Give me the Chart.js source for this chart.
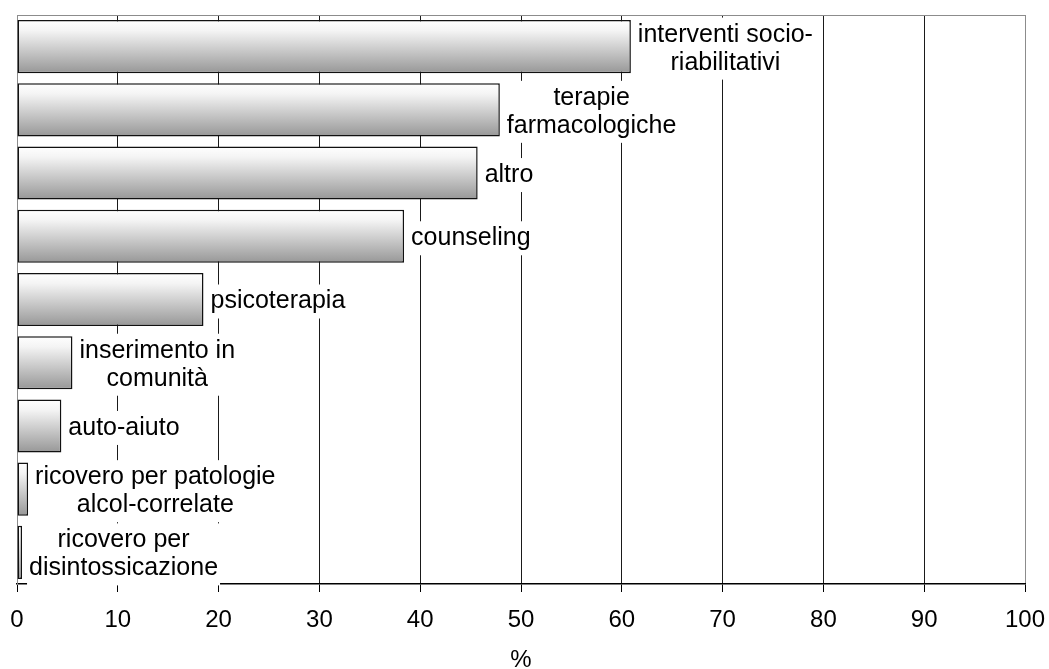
<!DOCTYPE html>
<html>
<head>
<meta charset="utf-8">
<script src="https://cdn.jsdelivr.net/npm/chart.js@4/dist/chart.umd.min.js"></script>
<style>
  html, body { margin: 0; padding: 0; background: #fff; }
  #wrap { width: 1049px; height: 669px; }
</style>
</head>
<body>
<div id="wrap"><canvas id="chart" width="1049" height="669"></canvas></div>
<script>
const categories = [
  ["interventi socio-", "riabilitativi"],
  ["terapie", "farmacologiche"],
  ["altro"],
  ["counseling"],
  ["psicoterapia"],
  ["inserimento in", "comunità"],
  ["auto-aiuto"],
  ["ricovero per patologie", "alcol-correlate"],
  ["ricovero per", "disintossicazione"],
];
const values = [60.9, 47.9, 45.7, 38.4, 18.5, 5.5, 4.4, 1.1, 0.5];
const xTicks = [0, 10, 20, 30, 40, 50, 60, 70, 80, 90, 100];
const axisTitle = "%";

const FONT = "'Liberation Sans', Arial, sans-serif";
const BAR_PCT = 0.84;

function barGradient(context) {
  const chart = context.chart;
  const area = chart.chartArea;
  if (!area || context.type !== "data") return "#cccccc";
  const yc = chart.scales.y.getPixelForValue(context.dataIndex);
  const half = ((area.bottom - area.top) / categories.length) * BAR_PCT / 2;
  const g = chart.ctx.createLinearGradient(0, yc - half, 0, yc + half);
  g.addColorStop(0, "#ffffff");
  g.addColorStop(0.2, "#f4f4f4");
  g.addColorStop(1, "#979797");
  return g;
}

// top frame line of the plot
const frameTop = {
  id: "frameTop",
  beforeDatasetsDraw(chart) {
    const { ctx, chartArea } = chart;
    ctx.save();
    ctx.strokeStyle = "#8c8c8c";
    ctx.lineWidth = 1;
    ctx.beginPath();
    ctx.moveTo(chartArea.left, chartArea.top + 0.5);
    ctx.lineTo(chartArea.right, chartArea.top + 0.5);
    ctx.stroke();
    ctx.restore();
  },
};

// category names written right of each bar, on a white box
const barLabels = {
  id: "barLabels",
  afterDatasetsDraw(chart) {
    const { ctx } = chart;
    const meta = chart.getDatasetMeta(0);
    const lineH = 28;
    ctx.save();
    ctx.font = "25px " + FONT;
    ctx.textBaseline = "middle";
    ctx.textAlign = "center";
    meta.data.forEach((bar, i) => {
      const lines = categories[i];
      const w = Math.max(...lines.map((l) => ctx.measureText(l).width));
      const left = bar.x + 7;
      const h = lines.length * lineH;
      const top = bar.y - h / 2 + 2;
      ctx.fillStyle = "#ffffff";
      ctx.fillRect(left - 2, top - 3, w + 4, h + 6);
      ctx.fillStyle = "#000000";
      lines.forEach((l, k) => {
        ctx.fillText(l, left + w / 2, top + lineH * k + lineH / 2);
      });
    });
    ctx.restore();
  },
};

new Chart(document.getElementById("chart"), {
  type: "bar",
  data: {
    labels: categories.map((c) => c.join(" ")),
    datasets: [
      {
        data: values,
        backgroundColor: barGradient,
        borderColor: "#111111",
        borderWidth: 1.5,
        borderSkipped: false,
        categoryPercentage: 1,
        barPercentage: BAR_PCT,
      },
    ],
  },
  options: {
    indexAxis: "y",
    responsive: false,
    animation: false,
    layout: { padding: { left: 17, right: 24, top: 15, bottom: 0 } },
    plugins: {
      legend: { display: false },
      tooltip: { enabled: false },
    },
    scales: {
      x: {
        min: 0,
        max: 100,
        afterBuildTicks: (scale) => {
          scale.ticks = xTicks.map((v) => ({ value: v }));
        },
        afterFit: (scale) => {
          scale.height = 85;
          scale.paddingLeft = 0;
          scale.paddingRight = 0;
        },
        ticks: {
          color: "#000",
          font: { family: FONT, size: 24 },
          padding: 14,
          maxRotation: 0,
        },
        grid: {
          color: (c) =>
            c.tick && (c.tick.value === 0 || c.tick.value === 100) ? "#8c8c8c" : "#1a1a1a",
          lineWidth: 1,
          tickLength: 8,
          tickColor: "#000",
        },
        border: { display: true, color: "#000", width: 1.5 },
        title: {
          display: true,
          text: axisTitle,
          color: "#000",
          font: { family: FONT, size: 24, lineHeight: 0.75 },
          padding: { top: 0, bottom: 0 },
        },
      },
      y: {
        ticks: { display: false },
        grid: { display: false },
        border: { display: true, color: "#8c8c8c", width: 1 },
        afterFit: (scale) => {
          scale.width = 0;
        },
      },
    },
  },
  plugins: [frameTop, barLabels],
});
</script>
</body>
</html>
